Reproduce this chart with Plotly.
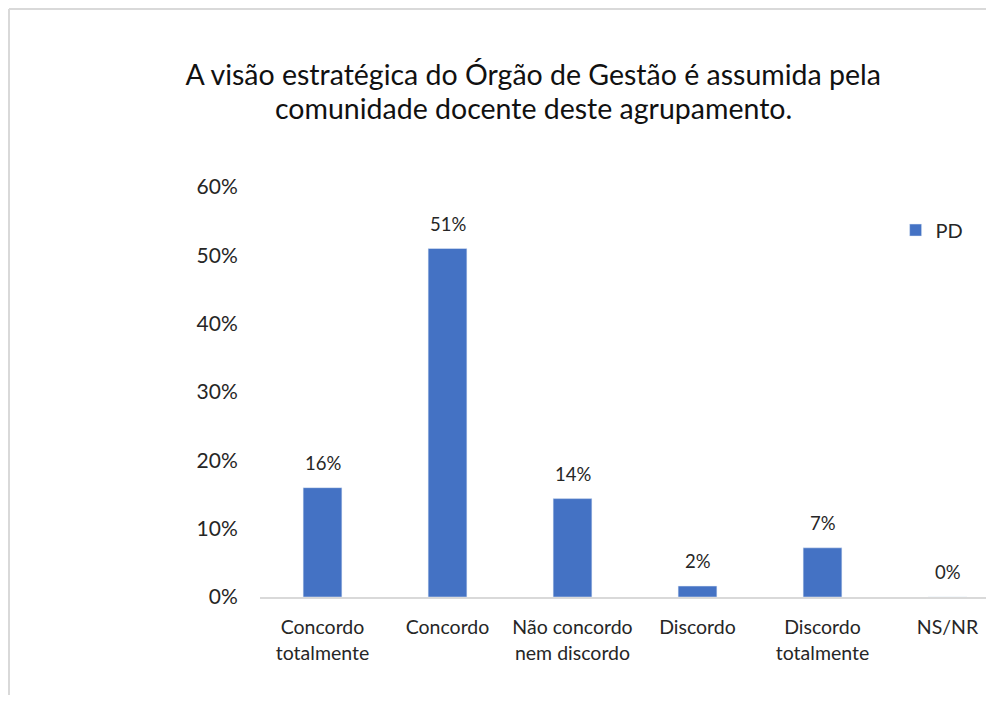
import plotly.graph_objects as go

categorias = ["Concordo<br>totalmente", "Concordo", "Não concordo<br>nem discordo",
              "Discordo", "Discordo<br>totalmente", "NS/NR"]
valores_pd = [0.16, 0.51, 0.144, 0.016, 0.072, 0.0]
tick_vals = [0, 0.1, 0.2, 0.3, 0.4, 0.5, 0.6]
tick_text = ["0%", "10%", "20%", "30%", "40%", "50%", "60%"]
titulo = ["A visão estratégica do Órgão de Gestão é assumida pela",
          "comunidade docente deste agrupamento."]

FONT = "Lato, 'Open Sans', sans-serif"
AZUL = "#4472C4"

fig = go.Figure()
fig.add_trace(go.Bar(
    x=list(range(len(categorias))),
    y=valores_pd,
    name="PD",
    marker=dict(color=AZUL),
))

# rótulos de dados acima das barras
for i, v in enumerate(valores_pd):
    fig.add_annotation(
        x=i, y=v, text=f"{round(v * 100):.0f}%",
        showarrow=False, yanchor="bottom", yshift=12,
        font=dict(family=FONT, size=18.5, color="#262626"),
    )

# segunda linha do título (espaçamento entre linhas mais apertado)
fig.add_annotation(
    xref="paper", yref="paper", x=(525 - 252) / 726, y=(589 - 100) / 410,
    text=titulo[1], showarrow=False, xanchor="center", yanchor="middle",
    font=dict(family=FONT, size=28.5, color="#111111"),
)

fig.update_layout(
    width=978, height=687,
    margin=dict(l=252, r=0, t=179, b=98),
    paper_bgcolor="white", plot_bgcolor="white",
    bargap=0.69,
    title=dict(
        text=titulo[0],
        x=0.537, xanchor="center", y=1 - 67 / 687, yanchor="middle",
        font=dict(family=FONT, size=28.5, color="#111111"),
    ),
    xaxis=dict(
        tickmode="array", tickvals=list(range(len(categorias))), ticktext=categorias,
        range=[-0.5, 5.308], showgrid=False, showline=True, linecolor="#d9d9d9", linewidth=2,
        ticks="outside", ticklen=12, tickcolor="rgba(0,0,0,0)",
        tickfont=dict(family=FONT, size=19.5, color="#262626"),
    ),
    yaxis=dict(
        range=[0, 0.6], tickmode="array", tickvals=tick_vals, ticktext=tick_text,
        showgrid=False, zeroline=False, showline=False, ticks="outside",
        ticklen=17, tickcolor="rgba(0,0,0,0)",
        tickfont=dict(family=FONT, size=21, color="#262626"),
    ),
    legend=dict(
        x=0.8755, y=0.895, xanchor="left", yanchor="middle",
        font=dict(family=FONT, size=20, color="#262626"),
        itemwidth=30, bgcolor="rgba(0,0,0,0)",
    ),
    showlegend=True,
)

# moldura do gráfico (só os lados esquerdo e superior ficam visíveis)
x_esq = -251 / 726
y_topo = 1 + 178 / 410
fig.add_shape(type="line", xref="paper", yref="paper",
              x0=x_esq, y0=-1.0, x1=x_esq, y1=y_topo,
              line=dict(color="#d9d9d9", width=2), layer="below")
fig.add_shape(type="line", xref="paper", yref="paper",
              x0=x_esq, y0=y_topo, x1=2.0, y1=y_topo,
              line=dict(color="#d9d9d9", width=2), layer="below")

fig.write_html("out.html")
